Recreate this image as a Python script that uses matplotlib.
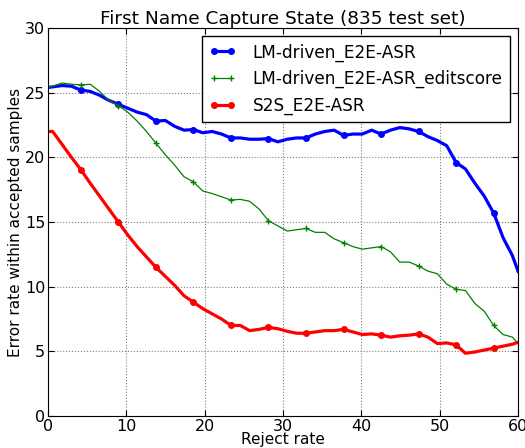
import numpy as np
import matplotlib
matplotlib.use('Agg')
import matplotlib.pyplot as plt

# rejected samples out of the 835-utterance test set
n_test = 835
n_rejected = [0, 5, 15, 25, 35, 45, 55, 65, 75, 85, 95, 105, 115, 125, 135, 145,
              155, 165, 175, 185, 195, 205, 215, 225, 235, 245, 255, 265, 275, 285,
              295, 305, 315, 325, 335, 345, 355, 365, 375, 385, 395, 405, 415, 425,
              435, 445, 455, 465, 475, 485, 495, 501]

lm_e2e = [25.4, 25.45, 25.55, 25.5, 25.2, 25.1, 24.8, 24.4, 24.1, 23.8, 23.5, 23.3,
          22.8, 22.85, 22.4, 22.1, 22.15, 21.9, 22.0, 21.8, 21.5, 21.5, 21.4, 21.4,
          21.45, 21.2, 21.4, 21.5, 21.5, 21.8, 22.0, 22.1, 21.7, 21.8, 21.8, 22.1,
          21.8, 22.1, 22.3, 22.2, 22.0, 21.6, 21.3, 20.9, 19.6, 19.1, 18.0, 17.0,
          15.7, 13.8, 12.4, 11.2]

lm_e2e_edit = [25.4, 25.5, 25.75, 25.65, 25.6, 25.65, 25.1, 24.4, 24.0, 23.5, 22.8,
               22.0, 21.1, 20.2, 19.4, 18.5, 18.1, 17.4, 17.2, 16.95, 16.7, 16.75,
               16.6, 16.0, 15.1, 14.7, 14.3, 14.4, 14.5, 14.2, 14.2, 13.7, 13.4, 13.1,
               12.9, 13.0, 13.1, 12.7, 11.9, 11.9, 11.6, 11.2, 11.0, 10.2, 9.8, 9.7,
               8.7, 8.1, 7.0, 6.3, 6.1, 5.6]

s2s_e2e = [22.0, 22.0, 21.0, 20.0, 19.05, 18.0, 17.0, 16.0, 15.0, 14.0, 13.1, 12.3,
           11.5, 10.8, 10.1, 9.3, 8.8, 8.3, 7.9, 7.5, 7.0, 7.0, 6.6, 6.7, 6.85, 6.75,
           6.55, 6.4, 6.4, 6.5, 6.6, 6.6, 6.7, 6.5, 6.3, 6.35, 6.25, 6.1, 6.2, 6.25,
           6.35, 6.1, 5.6, 5.65, 5.5, 4.85, 4.95, 5.1, 5.25, 5.4, 5.55, 5.7]

reject_rate = np.array(n_rejected) / n_test * 100

plt.rcParams['font.family'] = 'DejaVu Sans'
plt.rcParams['xtick.direction'] = 'in'
plt.rcParams['ytick.direction'] = 'in'
plt.rcParams['xtick.top'] = True
plt.rcParams['ytick.right'] = True

fig = plt.figure(figsize=(5.25, 4.48), dpi=100)
ax = fig.add_axes([0.0914, 0.0714, 0.8953, 0.8661])

marks = slice(4, None, 4)
ax.plot(reject_rate, lm_e2e, color='b', linewidth=2.3, marker='o', markersize=4,
        markevery=marks, label='LM-driven_E2E-ASR')
ax.plot(reject_rate, lm_e2e_edit, color='g', linewidth=0.9, marker='+', markersize=4,
        markevery=marks, label='LM-driven_E2E-ASR_editscore')
ax.plot(reject_rate, s2s_e2e, color='r', linewidth=2.3, marker='o', markersize=4,
        markevery=marks, label='S2S_E2E-ASR')

ax.set_xlim(0, 60)
ax.set_ylim(0, 30)
ax.set_xticks(range(0, 61, 10))
ax.set_yticks(range(0, 31, 5))
ax.tick_params(labelsize=11.5, length=4, pad=2)
ax.grid(True, linestyle=':', color='0.5', linewidth=0.8)
ax.set_axisbelow(True)

ax.set_title('First Name Capture State (835 test set)', fontsize=13.3, pad=3)
ax.set_xlabel('Reject rate', fontsize=11, labelpad=-1)
ax.set_ylabel('Error rate within accepted samples', fontsize=11, labelpad=1)

leg = ax.legend(loc='upper right', numpoints=2, fontsize=12.2, fancybox=False,
                framealpha=1, borderaxespad=0.5, handlelength=1.6, handletextpad=1.0)
leg.get_frame().set_edgecolor('black')

fig.savefig('out.png', dpi=100, facecolor='white')
